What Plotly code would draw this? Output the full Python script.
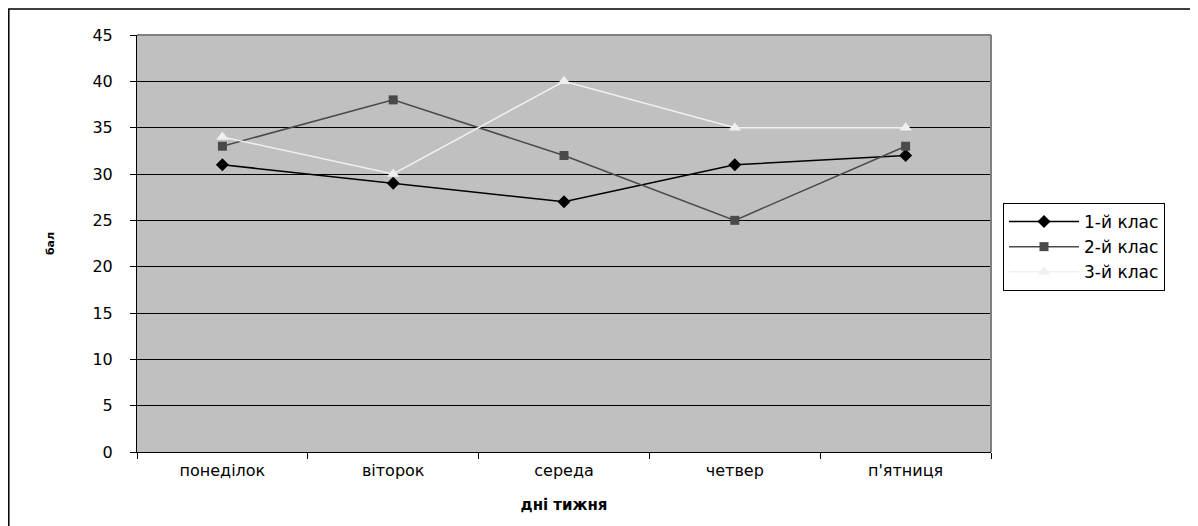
import plotly.graph_objects as go

days = ["понеділок", "віторок", "середа", "четвер", "п'ятниця"]
class1 = [31, 29, 27, 31, 32]
class2 = [33, 38, 32, 25, 33]
class3 = [34, 30, 40, 35, 35]
names = ["1-й клас", "2-й клас", "3-й клас"]

fig = go.Figure()
fig.add_trace(go.Scatter(x=days, y=class1, name=names[0], mode="lines+markers",
                         line=dict(color="#000000", width=1.5),
                         marker=dict(symbol="diamond", size=10, color="#000000")))
fig.add_trace(go.Scatter(x=days, y=class2, name=names[1], mode="lines+markers",
                         line=dict(color="#4a4a4a", width=1.5),
                         marker=dict(symbol="square", size=9, color="#4a4a4a")))
fig.add_trace(go.Scatter(x=days, y=class3, name=names[2], mode="lines+markers",
                         line=dict(color="#f0f0f0", width=1.5),
                         marker=dict(symbol="triangle-up", size=11, color="#f0f0f0")))

OFF = 8  # page body margin
W, H = 1198 - OFF, 526 - OFF
L, T = 137 - OFF, 35 - OFF
pw, ph = 854, 417
R, B = W - L - pw, H - T - ph

FONT = "DejaVu Sans, Liberation Sans, Arial"

fig.update_layout(
    width=W, height=H,
    margin=dict(l=L, r=R, t=T, b=B),
    paper_bgcolor="white",
    plot_bgcolor="#c0c0c0",
    font=dict(family=FONT, size=16, color="black"),
    showlegend=True,
    legend=dict(x=(1003 - 137) / pw, y=(452 - 203) / ph, xanchor="left", yanchor="top",
                bordercolor="black", borderwidth=1, bgcolor="white",
                font=dict(size=17), itemwidth=70, tracegroupgap=0),
    xaxis=dict(type="category", range=[-0.5, 4.5], tickson="boundaries",
               ticks="outside", ticklen=6, tickcolor="black",
               showgrid=False, showline=True, linecolor="black", linewidth=1,
               tickfont=dict(size=16), ticklabelstandoff=4,
               title=dict(text="<b>дні тижня</b>", font=dict(size=15), standoff=20)),
    yaxis=dict(range=[0, 45], dtick=5, tick0=0, ticks="outside", ticklen=6,
               tickcolor="black", showgrid=True, gridcolor="black", gridwidth=1,
               showline=True, linecolor="black", linewidth=1, zeroline=False,
               tickfont=dict(size=16), ticklabelstandoff=14,
               title=dict(text="<b>бал</b>", font=dict(size=11), standoff=35)),
    shapes=[
        dict(type="rect", xref="paper", yref="paper",
             x0=(8.8 - 137) / pw, x1=(1198 + 20 - 137) / pw,
             y0=(452 - (526 + 20)) / ph, y1=(452 - 9) / ph,
             line=dict(color="black", width=1.5), fillcolor="rgba(0,0,0,0)", layer="below"),
        dict(type="line", xref="paper", yref="paper", x0=1, x1=1, y0=0, y1=1,
             line=dict(color="#808080", width=2)),
        dict(type="line", xref="paper", yref="paper", x0=0, x1=1, y0=1, y1=1,
             line=dict(color="#808080", width=2)),
    ],
)

fig.write_html("out.html")
